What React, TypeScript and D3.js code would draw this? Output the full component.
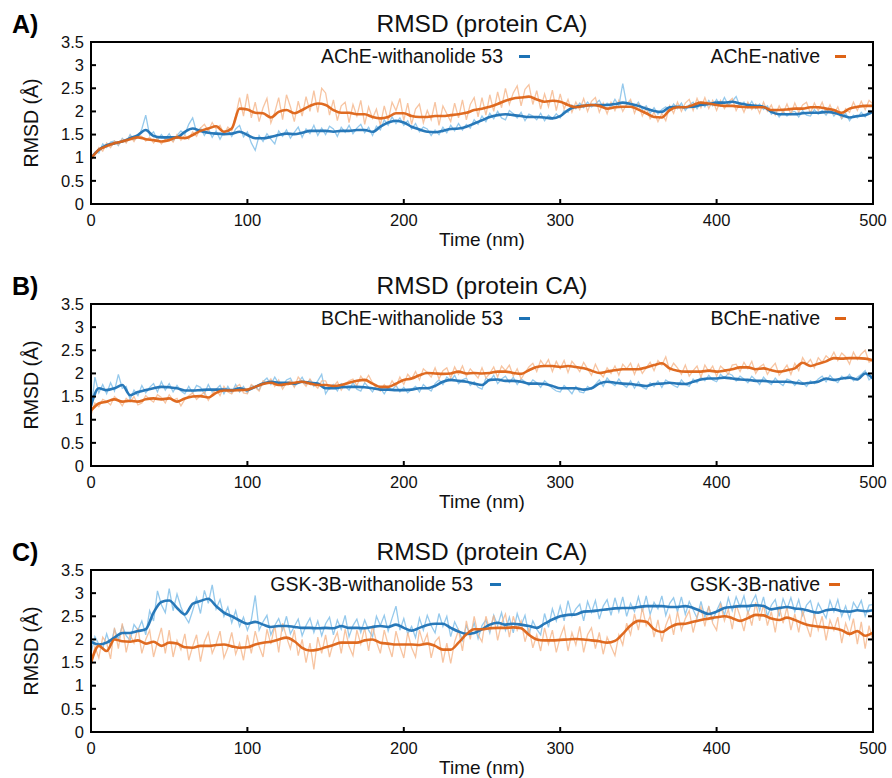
import React from "react";
import * as d3 from "d3";

// ---------------- DATA ----------------
const SMOOTH_STEP = 5; // ns between smoothed samples
const RAW_STEP = 2.5; // ns between raw samples

const xTickValues = [0, 100, 200, 300, 400, 500];
const yTickValues = [0, 0.5, 1, 1.5, 2, 2.5, 3, 3.5];
const yTickLabels = ["0", "0.5", "1", "1.5", "2", "2.5", "3", "3.5"];
const panelLetters = ["A)", "B)", "C)"];
const panelTitles = ["RMSD (protein CA)", "RMSD (protein CA)", "RMSD (protein CA)"];
const ligandLegends = ["AChE-withanolide 53", "BChE-withanolide 53", "GSK-3B-withanolide 53"];
const nativeLegends = ["AChE-native", "BChE-native", "GSK-3B-native"];
const xAxisTitle = "Time (nm)";
const yAxisTitle = "RMSD (Å)";

// Panel A – AChE
const acheLigandSmooth = [
  1.0, 1.17, 1.27, 1.31, 1.35, 1.42, 1.49, 1.6, 1.47, 1.44,
  1.44, 1.44, 1.56, 1.63, 1.58, 1.54, 1.52, 1.51, 1.52, 1.56,
  1.49, 1.42, 1.42, 1.45, 1.49, 1.52, 1.51, 1.54, 1.58, 1.58,
  1.58, 1.56, 1.58, 1.58, 1.6, 1.6, 1.56, 1.67, 1.76, 1.8,
  1.76, 1.67, 1.61, 1.56, 1.55, 1.58, 1.62, 1.63, 1.67, 1.74,
  1.81, 1.88, 1.92, 1.94, 1.92, 1.9, 1.88, 1.88, 1.87, 1.85,
  1.9, 2.03, 2.1, 2.12, 2.14, 2.14, 2.14, 2.16, 2.19, 2.16,
  2.12, 2.06, 2.01, 1.99, 2.09, 2.1, 2.09, 2.1, 2.14, 2.16,
  2.19, 2.19, 2.21, 2.17, 2.14, 2.12, 2.1, 1.99, 1.94, 1.94,
  1.94, 1.96, 1.97, 1.97, 1.99, 1.97, 1.92, 1.87, 1.9, 1.92,
  1.99,
];
const acheNativeSmooth = [
  0.98, 1.17, 1.25, 1.31, 1.35, 1.4, 1.44, 1.4, 1.38, 1.35,
  1.38, 1.44, 1.42, 1.49, 1.58, 1.63, 1.68, 1.56, 1.63, 2.06,
  2.04, 1.97, 1.96, 1.87, 1.99, 2.03, 1.96, 2.03, 2.12, 2.17,
  2.14, 2.03, 1.97, 1.97, 1.94, 1.94, 1.88, 1.85, 1.88, 1.96,
  1.96, 1.9, 1.88, 1.88, 1.9, 1.9, 1.92, 1.94, 1.97, 2.03,
  2.06, 2.1, 2.16, 2.23, 2.28, 2.3, 2.32, 2.26, 2.21, 2.23,
  2.21, 2.14, 2.09, 2.12, 2.14, 2.12, 2.06, 2.09, 2.1, 2.1,
  2.04, 1.96, 1.88, 1.87, 2.03, 2.09, 2.09, 2.14, 2.19, 2.17,
  2.14, 2.12, 2.12, 2.1, 2.09, 2.09, 2.09, 2.03, 2.03, 2.04,
  2.06, 2.06, 2.09, 2.09, 2.06, 2.03, 1.97, 2.06, 2.1, 2.12,
  2.12,
];
const acheLigandRaw = [
  0.94, 1.12, 1.1, 1.3, 1.22, 1.34, 1.36, 1.26, 1.42, 1.33, 1.5, 1.38, 1.44, 1.62, 1.92, 1.48, 1.56, 1.38, 1.5, 1.4,
  1.52, 1.36, 1.48, 1.58, 1.5, 1.72, 1.86, 1.55, 1.64, 1.48, 1.62, 1.44, 1.58, 1.4, 1.56, 1.6, 1.46, 1.62, 1.7, 1.45,
  1.56, 1.32, 1.16, 1.48, 1.35, 1.52, 1.4, 1.3, 1.58, 1.46, 1.6, 1.42, 1.55, 1.66, 1.44, 1.62, 1.52, 1.7, 1.48, 1.64,
  1.5, 1.68, 1.62, 1.46, 1.66, 1.55, 1.7, 1.52, 1.64, 1.72, 1.54, 1.66, 1.48, 1.68, 1.6, 1.82, 1.7, 1.88, 1.74, 1.86,
  1.7, 1.8, 1.62, 1.74, 1.56, 1.66, 1.62, 1.48, 1.6, 1.5, 1.66, 1.54, 1.7, 1.58, 1.74, 1.6, 1.72, 1.64, 1.82, 1.72,
  1.9, 1.78, 1.96, 1.84, 2.0, 1.86, 1.82, 2.02, 1.95, 1.86, 1.98, 1.8, 1.94, 1.9, 1.82, 1.96, 1.8, 1.92, 1.84, 1.95,
  1.86, 2.02, 1.98, 2.14, 2.06, 2.18, 2.08, 2.2, 2.1, 2.16, 2.24, 2.08, 2.18, 2.1, 2.26, 2.12, 2.6, 2.15, 2.22, 2.1,
  2.2, 2.04, 2.12, 1.96, 2.08, 1.94, 2.04, 2.1, 2.0, 2.16, 2.06, 2.18, 2.02, 2.14, 2.2, 2.06, 2.2, 2.1, 2.24, 2.12,
  2.26, 2.12, 2.3, 2.14, 2.22, 2.32, 2.1, 2.2, 2.08, 2.22, 2.06, 2.16, 2.04, 2.12, 1.94, 2.02, 1.88, 2.0, 1.9, 1.98,
  2.0, 1.88, 2.02, 1.92, 1.9, 2.04, 1.94, 2.02, 1.92, 2.06, 1.9, 2.0, 1.84, 1.96, 1.8, 1.92, 1.86, 1.98, 1.88, 2.02,
  2.0,
];
const acheNativeRaw = [
  1.0, 1.06, 1.22, 1.14, 1.32, 1.22, 1.36, 1.28, 1.4, 1.32, 1.46, 1.35, 1.5, 1.46, 1.36, 1.44, 1.32, 1.42, 1.3, 1.4,
  1.44, 1.34, 1.5, 1.38, 1.48, 1.4, 1.56, 1.46, 1.64, 1.72, 1.58, 1.76, 1.62, 1.7, 1.5, 1.66, 1.58, 1.9, 2.3, 1.9,
  2.38, 1.86, 2.2, 1.78, 2.08, 2.28, 1.75, 1.98, 2.3, 1.82, 2.36, 2.1, 1.78, 2.22, 1.9, 2.32, 2.0, 2.45, 1.98, 2.5,
  2.4, 1.92, 2.25, 1.8, 2.12, 2.2, 1.76, 2.15, 1.9, 2.24, 1.72, 2.1, 1.85, 2.05, 1.7, 2.12, 1.8, 2.2, 2.02, 2.28,
  1.8, 2.18, 1.72, 2.05, 2.16, 1.75, 2.02, 1.82, 2.2, 1.7, 2.12, 1.95, 1.78, 2.18, 1.86, 2.25, 1.82, 2.15, 2.3, 1.88,
  2.3, 1.92, 2.36, 2.0, 2.42, 2.08, 2.5, 2.15, 2.4, 2.55, 2.12, 2.48, 2.58, 2.15, 2.45, 2.05, 2.38, 2.1, 2.46, 2.02,
  2.38, 2.05, 2.26, 1.98, 2.2, 2.04, 2.28, 2.0, 2.22, 2.3, 1.98, 2.18, 1.95, 2.2, 2.02, 2.24, 2.0, 2.16, 2.26, 1.96,
  2.16, 1.9, 2.08, 1.84, 1.98, 1.78, 1.95, 1.8, 2.12, 1.96, 2.2, 2.0, 2.18, 2.26, 2.02, 2.28, 2.08, 2.3, 2.06, 2.24,
  2.02, 2.24, 2.06, 2.2, 2.28, 2.02, 2.18, 1.98, 2.2, 2.04, 2.16, 1.96, 2.2, 2.0, 2.14, 1.92, 2.12, 1.96, 2.16, 1.94,
  2.18, 1.98, 2.14, 2.2, 1.96, 2.18, 2.02, 2.2, 1.96, 2.14, 1.94, 2.1, 1.86, 2.06, 1.98, 2.2, 2.02, 2.22, 2.04, 2.24,
  2.16,
];

// Panel B – BChE
const bcheLigandSmooth = [
  1.3, 1.68, 1.64, 1.68, 1.75, 1.53, 1.6, 1.64, 1.68, 1.71,
  1.7, 1.68, 1.63, 1.63, 1.64, 1.65, 1.65, 1.65, 1.64, 1.68,
  1.64, 1.71, 1.78, 1.82, 1.8, 1.8, 1.78, 1.82, 1.8, 1.78,
  1.68, 1.68, 1.7, 1.71, 1.71, 1.7, 1.68, 1.65, 1.65, 1.64,
  1.64, 1.65, 1.68, 1.68, 1.73, 1.82, 1.86, 1.84, 1.82, 1.78,
  1.75, 1.86, 1.87, 1.84, 1.84, 1.82, 1.78, 1.78, 1.77, 1.73,
  1.68, 1.68, 1.68, 1.65, 1.68, 1.78, 1.82, 1.8, 1.78, 1.77,
  1.75, 1.73, 1.77, 1.78, 1.8, 1.78, 1.77, 1.82, 1.87, 1.89,
  1.89, 1.91, 1.89, 1.87, 1.86, 1.84, 1.84, 1.82, 1.82, 1.82,
  1.8, 1.78, 1.8, 1.82, 1.89, 1.86, 1.89, 1.91, 1.87, 2.0,
  1.89,
];
const bcheNativeSmooth = [
  1.2, 1.35, 1.39, 1.44, 1.39, 1.41, 1.39, 1.44, 1.46, 1.44,
  1.46, 1.39, 1.46, 1.5, 1.51, 1.48, 1.58, 1.63, 1.63, 1.64,
  1.65, 1.71, 1.77, 1.8, 1.75, 1.77, 1.8, 1.82, 1.78, 1.75,
  1.75, 1.73, 1.75, 1.8, 1.84, 1.86, 1.78, 1.71, 1.71, 1.78,
  1.86, 1.89, 1.96, 2.01, 2.0, 1.99, 2.0, 2.04, 2.0, 2.01,
  2.0, 2.01, 2.04, 2.04, 2.01, 1.99, 2.07, 2.14, 2.16, 2.16,
  2.14, 2.16, 2.14, 2.11, 2.06, 2.01, 2.04, 2.07, 2.09, 2.09,
  2.09, 2.13, 2.18, 2.22, 2.11, 2.06, 2.04, 2.04, 2.04, 2.06,
  2.04, 2.06, 2.09, 2.13, 2.13, 2.09, 2.11, 2.07, 2.04, 2.07,
  2.11, 2.23, 2.16, 2.21, 2.26, 2.33, 2.32, 2.33, 2.33, 2.32,
  2.28,
];
const bcheLigandRaw = [
  1.2, 1.92, 1.58, 1.76, 1.56, 1.8, 1.62, 1.98, 1.68, 1.72, 1.44, 1.64, 1.52, 1.74, 1.58, 1.7, 1.78, 1.6, 1.82, 1.64,
  1.78, 1.6, 1.74, 1.62, 1.56, 1.72, 1.58, 1.74, 1.7, 1.56, 1.76, 1.6, 1.66, 1.74, 1.56, 1.72, 1.58, 1.76, 1.6, 1.72,
  1.58, 1.74, 1.7, 1.64, 1.82, 1.9, 1.76, 1.92, 1.78, 1.72, 1.86, 1.9, 1.72, 1.8, 1.92, 1.76, 1.86, 1.72, 1.84, 1.98,
  1.56, 1.7, 1.76, 1.62, 1.78, 1.72, 1.64, 1.8, 1.66, 1.62, 1.8, 1.7, 1.6, 1.74, 1.68, 1.56, 1.7, 1.64, 1.74, 1.6,
  1.7, 1.58, 1.66, 1.72, 1.6, 1.76, 1.68, 1.62, 1.78, 1.86, 1.76, 1.92, 1.84, 1.96, 1.78, 1.86, 1.9, 1.74, 1.82, 1.7,
  1.66, 1.9, 1.84, 1.96, 1.78, 1.88, 1.94, 1.8, 1.92, 1.76, 1.88, 1.82, 1.74, 1.86, 1.8, 1.7, 1.84, 1.76, 1.68, 1.62,
  1.6, 1.74, 1.66, 1.56, 1.72, 1.6, 1.58, 1.72, 1.66, 1.76, 1.86, 1.72, 1.9, 1.8, 1.74, 1.88, 1.76, 1.7, 1.84, 1.68,
  1.82, 1.7, 1.66, 1.8, 1.72, 1.84, 1.7, 1.86, 1.8, 1.74, 1.7, 1.86, 1.76, 1.72, 1.88, 1.8, 1.92, 1.84, 1.96, 1.86,
  1.82, 1.98, 1.9, 2.0, 1.96, 1.84, 1.94, 1.88, 1.8, 1.94, 1.86, 1.76, 1.92, 1.82, 1.76, 1.9, 1.8, 1.74, 1.88, 1.84,
  1.74, 1.86, 1.8, 1.72, 1.84, 1.78, 1.88, 1.94, 1.82, 1.96, 1.86, 1.8, 1.94, 1.88, 1.98, 1.84, 1.92, 1.98, 2.06, 1.86,
  1.94,
];
const bcheNativeRaw = [
  1.1, 1.36, 1.28, 1.44, 1.4, 1.32, 1.5, 1.42, 1.3, 1.46, 1.38, 1.5, 1.32, 1.36, 1.52, 1.44, 1.38, 1.54, 1.48, 1.36,
  1.54, 1.42, 1.46, 1.3, 1.44, 1.52, 1.58, 1.44, 1.52, 1.6, 1.42, 1.56, 1.66, 1.52, 1.72, 1.6, 1.56, 1.7, 1.76, 1.58,
  1.56, 1.76, 1.7, 1.62, 1.84, 1.78, 1.88, 1.72, 1.86, 1.66, 1.8, 1.84, 1.7, 1.92, 1.82, 1.72, 1.88, 1.76, 1.68, 1.84,
  1.84, 1.66, 1.72, 1.82, 1.64, 1.78, 1.84, 1.88, 1.74, 1.94, 1.82, 1.96, 1.8, 1.68, 1.62, 1.76, 1.66, 1.84, 1.72, 1.92,
  1.76, 1.98, 1.88, 2.04, 1.86, 2.1, 2.02, 1.92, 2.12, 1.88, 2.06, 2.12, 1.9, 2.14, 1.98, 2.16, 1.94, 2.1, 2.0, 1.9,
  2.12, 1.9, 2.0, 2.14, 1.92, 2.16, 2.06, 2.18, 1.94, 2.1, 1.88, 2.02, 2.14, 2.22, 2.04, 2.28, 2.16, 2.3, 2.04, 2.26,
  2.1, 2.28, 2.02, 2.26, 2.16, 2.04, 2.24, 2.1, 1.96, 2.2, 2.02, 1.92, 2.12, 2.0, 2.16, 1.96, 2.2, 2.1, 2.22, 1.98,
  2.2, 2.0, 2.12, 2.24, 2.06, 2.28, 2.18, 2.36, 2.06, 2.22, 2.12, 1.98, 2.18, 1.94, 2.06, 2.16, 1.92, 2.18, 2.04, 2.16,
  1.94, 2.16, 2.08, 1.98, 2.18, 2.2, 2.04, 2.24, 2.1, 2.26, 2.0, 2.14, 2.2, 1.98, 2.12, 2.22, 1.96, 2.06, 2.18, 1.98,
  2.22, 2.06, 2.34, 2.2, 2.3, 2.12, 2.34, 2.24, 2.38, 2.3, 2.46, 2.28, 2.44, 2.36, 2.2, 2.46, 2.3, 2.42, 2.5, 2.24,
  2.3,
];

// Panel C – GSK-3B
const gskLigandSmooth = [
  1.95, 1.89, 1.93, 2.04, 2.14, 2.14, 2.18, 2.22, 2.58, 2.81,
  2.84, 2.68, 2.54, 2.77, 2.83, 2.88, 2.72, 2.58, 2.5, 2.41,
  2.34, 2.38, 2.32, 2.27, 2.29, 2.29, 2.27, 2.25, 2.25, 2.24,
  2.25, 2.24, 2.29, 2.25, 2.25, 2.24, 2.27, 2.29, 2.27, 2.32,
  2.25, 2.19, 2.25, 2.31, 2.34, 2.34, 2.25, 2.17, 2.12, 2.14,
  2.22, 2.32, 2.36, 2.32, 2.34, 2.32, 2.29, 2.25, 2.34, 2.43,
  2.5, 2.53, 2.54, 2.6, 2.61, 2.63, 2.65, 2.67, 2.68, 2.68,
  2.7, 2.72, 2.72, 2.72, 2.7, 2.7, 2.72, 2.68, 2.61, 2.55,
  2.6, 2.68, 2.7, 2.72, 2.72, 2.74, 2.72, 2.65, 2.68, 2.7,
  2.67, 2.65, 2.61, 2.58, 2.63, 2.65, 2.61, 2.6, 2.63, 2.61,
  2.63,
];
const gskNativeSmooth = [
  1.5, 1.86, 1.75, 2.0, 1.96, 1.95, 1.98, 1.91, 1.95, 1.86,
  1.93, 1.91, 1.83, 1.82, 1.86, 1.86, 1.88, 1.89, 1.85, 1.82,
  1.83, 1.89, 1.93, 1.95, 2.0, 2.04, 1.96, 1.82, 1.76, 1.78,
  1.83, 1.88, 1.93, 1.93, 1.93, 1.98, 2.0, 1.93, 1.91, 1.89,
  1.89, 1.89, 1.88, 1.91, 1.86, 1.78, 1.78, 1.93, 2.11, 2.22,
  2.22, 2.24, 2.25, 2.25, 2.26, 2.24, 2.1, 2.0, 1.98, 1.98,
  1.99, 2.0, 2.01, 2.0, 1.98, 1.96, 1.93, 1.97, 2.12, 2.3,
  2.4, 2.38, 2.22, 2.16, 2.26, 2.33, 2.34, 2.38, 2.42, 2.45,
  2.48, 2.5, 2.46, 2.4, 2.46, 2.53, 2.52, 2.45, 2.42, 2.47,
  2.42, 2.35, 2.3, 2.28, 2.26, 2.24, 2.2, 2.12, 2.18, 2.08,
  2.15,
];
const gskLigandRaw = [
  1.7, 2.06, 1.9, 1.8, 2.12, 1.86, 2.22, 2.0, 2.3, 2.08, 1.98, 2.32, 2.2, 2.4, 2.1, 2.62, 2.4, 3.05, 2.75, 2.58,
  3.1, 2.62, 2.98, 2.7, 2.5, 2.36, 2.62, 2.9, 2.56, 3.06, 2.78, 3.18, 2.66, 2.86, 2.5, 2.7, 2.36, 2.62, 2.28, 2.48,
  2.2, 2.42, 2.95, 2.2, 2.38, 2.52, 2.1, 2.3, 2.45, 2.2, 2.5, 2.12, 2.28, 2.44, 2.08, 2.3, 2.46, 2.15, 2.4, 2.08,
  2.34, 2.48, 2.1, 2.42, 2.22, 2.52, 2.06, 2.3, 2.44, 2.15, 2.42, 2.2, 2.06, 2.5, 2.3, 2.52, 2.18, 2.46, 2.72, 2.2,
  2.45, 2.12, 2.28, 2.04, 2.46, 2.2, 2.52, 2.3, 2.14, 2.56, 2.28, 2.5, 2.06, 2.38, 2.2, 1.98, 2.3, 2.1, 2.36, 2.02,
  2.3, 2.42, 2.14, 2.52, 2.3, 2.58, 2.2, 2.48, 2.14, 2.56, 2.3, 2.52, 2.1, 2.4, 2.22, 2.1, 2.56, 2.26, 2.66, 2.4,
  2.72, 2.4, 2.84, 2.5, 2.66, 2.76, 2.4, 2.82, 2.58, 2.84, 2.44, 2.72, 2.86, 2.52, 2.9, 2.6, 2.92, 2.5, 2.78, 2.6,
  2.92, 2.6, 2.94, 2.54, 2.8, 2.66, 2.94, 2.52, 2.78, 2.9, 2.6, 2.92, 2.54, 2.82, 2.64, 2.46, 2.82, 2.48, 2.7, 2.42,
  2.62, 2.8, 2.52, 2.9, 2.62, 2.92, 2.7, 2.94, 2.56, 2.8, 2.96, 2.62, 2.92, 2.5, 2.74, 2.86, 2.5, 2.88, 2.66, 2.9,
  2.6, 2.86, 2.52, 2.74, 2.84, 2.5, 2.78, 2.62, 2.46, 2.84, 2.6, 2.86, 2.5, 2.72, 2.44, 2.8, 2.66, 2.84, 2.5, 2.74,
  2.75,
];
const gskNativeRaw = [
  1.4, 1.85, 1.6, 2.05, 1.92, 1.58, 2.25, 1.8, 2.35, 1.72, 2.1, 1.92, 2.25, 1.7, 2.0, 2.2, 1.62, 1.95, 2.25, 1.7,
  2.2, 1.62, 1.98, 1.78, 2.12, 1.55, 1.85, 2.1, 1.52, 1.95, 2.15, 1.7, 1.9, 2.18, 1.6, 1.82, 2.15, 1.68, 1.92, 1.55,
  2.1, 1.7, 2.18, 1.85, 1.62, 2.22, 1.9, 2.3, 1.72, 2.35, 2.05, 1.8, 2.2, 1.65, 2.0, 1.5, 1.92, 1.35, 2.05, 1.7,
  2.1, 1.62, 1.95, 2.15, 1.7, 2.22, 1.85, 1.65, 2.2, 1.9, 2.25, 1.75, 2.3, 1.95, 1.7, 2.2, 1.88, 1.62, 2.18, 1.85,
  1.6, 2.15, 1.82, 1.62, 2.2, 1.9, 2.12, 1.6, 1.95, 2.05, 1.5, 1.92, 1.48, 1.95, 2.2, 1.75, 2.4, 2.0, 2.5, 2.1,
  1.95, 2.5, 2.2, 2.52, 1.98, 2.35, 2.55, 2.05, 2.5, 2.2, 2.4, 1.95, 2.25, 1.82, 2.1, 1.75, 2.25, 1.9, 2.2, 1.72,
  2.05, 2.28, 1.75, 2.15, 1.88, 2.28, 1.72, 2.1, 2.25, 1.8, 2.15, 1.68, 2.05, 1.85, 1.65, 2.1, 1.88, 2.35, 2.1, 2.55,
  2.2, 2.68, 2.3, 2.5, 2.05, 2.42, 1.95, 2.3, 2.52, 2.1, 2.6, 2.2, 2.45, 2.62, 2.15, 2.5, 2.7, 2.28, 2.72, 2.35,
  2.2, 2.78, 2.4, 2.65, 2.22, 2.75, 2.5, 2.18, 2.62, 2.3, 2.8, 2.4, 2.75, 2.3, 2.6, 2.15, 2.72, 2.35, 2.7, 2.2,
  2.55, 2.15, 2.62, 2.3, 2.05, 2.55, 2.2, 2.5, 1.98, 2.42, 2.2, 2.48, 1.92, 2.35, 2.1, 2.45, 1.9, 2.38, 1.8, 2.3,
  1.95,
];

// ---------------- LAYOUT / STYLE ----------------
const FONT = "'Liberation Sans', Arial, Helvetica, sans-serif";
const BLUE = "#1d72b5";
const ORANGE = "#dd6316";
const BLUE_LIGHT = "#8ac3ea";
const ORANGE_LIGHT = "#f5b589";

const PLOT_LEFT = 91;
const PLOT_RIGHT = 873;
const PLOT_H = 162;
const panelTops = [42, 304, 570];
const ligandTextEnd = [503, 503, 473];
const ligandDashX = [519, 519, 490];
const nativeTextEnd = [820, 820, 820];
const nativeDashX = [835, 835, 829];

const panels = [
  { ligSmooth: acheLigandSmooth, natSmooth: acheNativeSmooth, ligRaw: acheLigandRaw, natRaw: acheNativeRaw },
  { ligSmooth: bcheLigandSmooth, natSmooth: bcheNativeSmooth, ligRaw: bcheLigandRaw, natRaw: bcheNativeRaw },
  { ligSmooth: gskLigandSmooth, natSmooth: gskNativeSmooth, ligRaw: gskLigandRaw, natRaw: gskNativeRaw },
];

function Panel({ idx }: { idx: number }) {
  const top = panelTops[idx];
  const bottom = top + PLOT_H;
  const p = panels[idx];
  const x = d3.scaleLinear().domain([0, 500]).range([PLOT_LEFT, PLOT_RIGHT]);
  const y = d3.scaleLinear().domain([0, 3.5]).range([bottom, top]);

  const rawLine = d3
    .line<number>()
    .x((_, i) => x(i * RAW_STEP))
    .y((d) => y(d))
    .curve(d3.curveLinear);
  const smoothLine = d3
    .line<number>()
    .x((_, i) => x(i * SMOOTH_STEP))
    .y((d) => y(d))
    .curve(d3.curveMonotoneX);

  const clipId = `clip-${idx}`;
  const cx = (PLOT_LEFT + PLOT_RIGHT) / 2;
  const legendBaseline = top + 20.5;
  const dashY = legendBaseline - 6;

  return (
    <g>
      <defs>
        <clipPath id={clipId}>
          <rect x={PLOT_LEFT} y={top} width={PLOT_RIGHT - PLOT_LEFT} height={PLOT_H} />
        </clipPath>
      </defs>
      <text x={12} y={top - 9} fontFamily={FONT} fontWeight="bold" fontSize={25} fill="#000">
        {panelLetters[idx]}
      </text>
      <text x={cx} y={top - 10} textAnchor="middle" fontFamily={FONT} fontSize={24.5} fill="#111">
        {panelTitles[idx]}
      </text>

      <g clipPath={`url(#${clipId})`}>
        <path d={rawLine(p.ligRaw) || ""} fill="none" stroke={BLUE_LIGHT} strokeWidth={1.3} opacity={0.9} />
        <path d={rawLine(p.natRaw) || ""} fill="none" stroke={ORANGE_LIGHT} strokeWidth={1.3} opacity={0.8} />
        <path d={smoothLine(p.ligSmooth) || ""} fill="none" stroke={BLUE} strokeWidth={2.6} opacity={0.95} />
        <path d={smoothLine(p.natSmooth) || ""} fill="none" stroke={ORANGE} strokeWidth={2.6} opacity={0.95} />
      </g>

      <rect
        x={PLOT_LEFT}
        y={top}
        width={PLOT_RIGHT - PLOT_LEFT}
        height={PLOT_H}
        fill="none"
        stroke="#000"
        strokeWidth={2}
      />

      {yTickValues.map((v, i) => (
        <g key={`y${i}`}>
          {i > 0 && i < yTickValues.length - 1 && (
            <>
              <line x1={PLOT_LEFT} x2={PLOT_LEFT + 5} y1={y(v)} y2={y(v)} stroke="#000" strokeWidth={2} />
              <line x1={PLOT_RIGHT - 5} x2={PLOT_RIGHT} y1={y(v)} y2={y(v)} stroke="#000" strokeWidth={2} />
            </>
          )}
          <text
            x={PLOT_LEFT - 7}
            y={y(v)}
            dy="0.35em"
            textAnchor="end"
            fontFamily={FONT}
            fontSize={16.5}
            fill="#111"
          >
            {yTickLabels[i]}
          </text>
        </g>
      ))}

      {xTickValues.map((v, i) => (
        <g key={`x${i}`}>
          {i > 0 && i < xTickValues.length - 1 && (
            <line x1={x(v)} x2={x(v)} y1={bottom} y2={bottom - 5} stroke="#000" strokeWidth={2} />
          )}
          <text x={x(v)} y={bottom + 22} textAnchor="middle" fontFamily={FONT} fontSize={16.5} fill="#111">
            {String(v)}
          </text>
        </g>
      ))}

      <text x={cx} y={bottom + 42} textAnchor="middle" fontFamily={FONT} fontSize={19} fill="#111">
        {xAxisTitle}
      </text>
      <text
        transform={`translate(38, ${top + PLOT_H / 2}) rotate(-90)`}
        textAnchor="middle"
        fontFamily={FONT}
        fontSize={19.5}
        fill="#111"
      >
        {yAxisTitle}
      </text>

      <text x={ligandTextEnd[idx]} y={legendBaseline} textAnchor="end" fontFamily={FONT} fontSize={19.5} fill="#111">
        {ligandLegends[idx]}
      </text>
      <line x1={ligandDashX[idx]} x2={ligandDashX[idx] + 11} y1={dashY} y2={dashY} stroke={BLUE} strokeWidth={3} />
      <text x={nativeTextEnd[idx]} y={legendBaseline} textAnchor="end" fontFamily={FONT} fontSize={19.5} fill="#111">
        {nativeLegends[idx]}
      </text>
      <line x1={nativeDashX[idx]} x2={nativeDashX[idx] + 11} y1={dashY} y2={dashY} stroke={ORANGE} strokeWidth={3} />
    </g>
  );
}

export default function App() {
  return (
    <svg
      width={892}
      height={778}
      viewBox="0 0 892 778"
      style={{ display: "block", position: "absolute", left: 0, top: 0, background: "#fff" }}
    >
      <rect x={0} y={0} width={892} height={778} fill="#fff" />
      {[0, 1, 2].map((i) => (
        <Panel key={i} idx={i} />
      ))}
    </svg>
  );
}
